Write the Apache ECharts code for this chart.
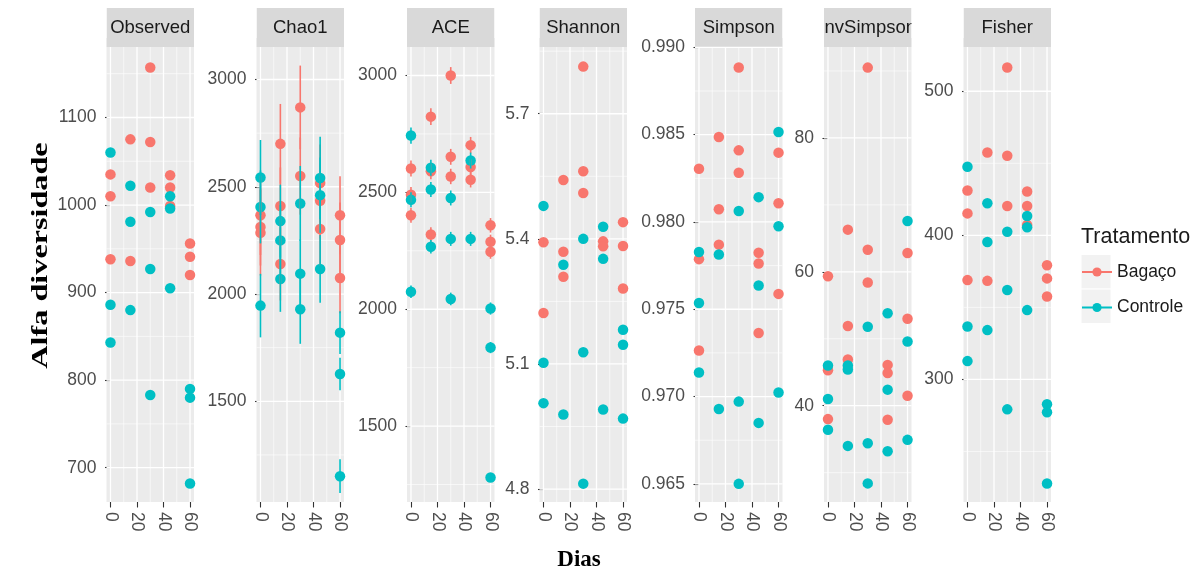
<!DOCTYPE html>
<html>
<head>
<meta charset="utf-8">
<script src="https://cdn.jsdelivr.net/npm/echarts@6/dist/echarts.min.js"></script>
<style>
  html, body { margin: 0; padding: 0; background: #ffffff; }
  #chart { width: 1204px; height: 572px; }
</style>
</head>
<body>
<div id="chart"></div>
<script>
// Sampling days (x axis of every facet)
const days = [0, 15, 30, 45, 60];
const xTicks = [0, 20, 40, 60];
const xLimits = [-3, 63];

// Replicate values per day, one inner array per day
const observedBagaco   = [[1035, 1010, 938], [1075, 936], [1157, 1072, 1020], [1034, 1020, 999], [956, 941, 920]];
const observedControle = [[1060, 886, 843], [1022, 981, 880], [992, 927, 783], [1010, 996, 905], [790, 780, 682]];
const observedTicks  = [700, 800, 900, 1000, 1100];
const observedLimits = [660.8, 1180.5];

const chao1Bagaco     = [[2367, 2313, 2286], [2700, 2410, 2140], [2870, 2550], [2517, 2435, 2303], [2367, 2252, 2075]];
const chao1BagacoSe   = [[185, 180, 200], [186, 180, 170], [195, 180], [180, 175, 170], [182, 175, 165]];
const chao1Controle   = [[2543, 2406, 1946], [2340, 2250, 2070], [2422, 2095, 1929], [2541, 2461, 2117], [1820, 1627, 1151]];
const chao1ControleSe = [[175, 170, 148], [170, 165, 153], [175, 160, 161], [192, 175, 158], [100, 76, 79]];
const chao1Ticks  = [1500, 2000, 2500, 3000];
const chao1Limits = [1030.6, 3151.5];

const aceBagaco     = [[2602, 2490, 2402], [2824, 2590, 2320], [3000, 2652, 2568], [2702, 2608, 2554], [2359, 2289, 2246]];
const aceBagacoSe   = [[34, 33, 32], [36, 34, 31], [36, 34, 33], [35, 34, 33], [31, 30, 30]];
const aceControle   = [[2743, 2468, 2075], [2605, 2512, 2267], [2476, 2301, 2044], [2636, 2301], [2003, 1836, 1280]];
const aceControleSe = [[35, 32, 27], [34, 32, 29], [32, 30, 27], [34, 30], [26, 24, 18]];
const aceTicks  = [1500, 2000, 2500, 3000];
const aceLimits = [1175.3, 3121.9];

const shannonBagaco   = [[5.392, 5.222], [5.541, 5.369, 5.309], [5.813, 5.562, 5.510], [5.394, 5.382], [5.440, 5.383, 5.281]];
const shannonControle = [[5.479, 5.103, 5.006], [5.338, 4.979], [5.400, 5.128, 4.813], [5.429, 5.352, 4.991], [5.182, 5.146, 4.969]];
const shannonTicks  = [4.8, 5.1, 5.4, 5.7];
const shannonLimits = [4.769, 5.860];

const simpsonBagaco   = [[0.98305, 0.97787, 0.97264], [0.98487, 0.98073, 0.97870], [0.98885, 0.98410, 0.98282], [0.97824, 0.97762, 0.97364], [0.98397, 0.98107, 0.97588]];
const simpsonControle = [[0.97828, 0.97536, 0.97138], [0.97814, 0.96929], [0.98063, 0.96971, 0.96500], [0.98142, 0.97636, 0.96849], [0.98515, 0.97975, 0.97023]];
const simpsonTicks  = [0.965, 0.970, 0.975, 0.980, 0.985, 0.990];
const simpsonLimits = [0.96396, 0.99002];

const invSimpsonBagaco   = [[59.35, 45.3, 38.0], [66.3, 51.9, 46.9], [90.5, 63.3, 58.4], [46.1, 44.9, 37.9], [62.8, 53.0, 41.5]];
const invSimpsonControle = [[46.0, 41.0, 36.4], [46.0, 45.4, 34.0], [51.8, 34.4, 28.4], [53.8, 42.4, 33.2], [67.6, 49.6, 34.9]];
const invSimpsonTicks  = [40, 60, 80];
const invSimpsonLimits = [25.62, 93.58];

const fisherBagaco   = [[431.1, 415.2, 368.9], [457.5, 368.4], [516.5, 455.2, 420.3], [430.4, 420.3, 407.1], [379.2, 370.1, 357.5]];
const fisherControle = [[447.6, 336.7, 312.7], [422.3, 395.4, 334.2], [402.5, 362.0, 279.2], [413.4, 405.6, 348.1], [282.8, 277.2, 227.8]];
const fisherTicks  = [300, 400, 500];
const fisherLimits = [214.9, 530.7];

const groupNames = ['Bagaço', 'Controle'];
const legendTitle = 'Tratamento';
const yTitle = 'Alfa diversidade';
const xTitle = 'Dias';

// Facet descriptions (label decimals are formatting, not data)
const facets = [
  { name: 'Observed',   b: observedBagaco,   c: observedControle,   ticks: observedTicks,   lim: observedLimits,   dec: 0 },
  { name: 'Chao1',      b: chao1Bagaco,      c: chao1Controle,      ticks: chao1Ticks,      lim: chao1Limits,      dec: 0, bSe: chao1BagacoSe, cSe: chao1ControleSe },
  { name: 'ACE',        b: aceBagaco,        c: aceControle,        ticks: aceTicks,        lim: aceLimits,        dec: 0, bSe: aceBagacoSe,   cSe: aceControleSe },
  { name: 'Shannon',    b: shannonBagaco,    c: shannonControle,    ticks: shannonTicks,    lim: shannonLimits,    dec: 1 },
  { name: 'Simpson',    b: simpsonBagaco,    c: simpsonControle,    ticks: simpsonTicks,    lim: simpsonLimits,    dec: 3 },
  { name: 'InvSimpson', b: invSimpsonBagaco, c: invSimpsonControle, ticks: invSimpsonTicks, lim: invSimpsonLimits, dec: 0 },
  { name: 'Fisher',     b: fisherBagaco,     c: fisherControle,     ticks: fisherTicks,     lim: fisherLimits,     dec: 0 }
];

// Layout
const PANEL_LEFT = [106.5, 256.5, 407, 539.5, 695, 824, 963.5];
const PANEL_W = 87.5;
const PANEL_TOP = 47;
const PANEL_H = 455;
const STRIP_TOP = 8;
const STRIP_H = 39;

const RED = '#F8766D';
const TEAL = '#00BFC4';
const SANS = '"Liberation Sans", Arial, sans-serif';
const SERIF = '"Liberation Serif", "Times New Roman", serif';
const TICK_COLOR = '#333333';
const LABEL_COLOR = '#4D4D4D';

function toPoints(vals, se) {
  const out = [];
  days.forEach((d, i) => {
    vals[i].forEach((v, j) => out.push(se ? [d, v, se[i][j]] : [d, v]));
  });
  return out;
}

// Major and minor grid line positions: [x, y, orientation (0 = horizontal), major flag]
function gridLines(f) {
  const out = [];
  const xMid = (xLimits[0] + xLimits[1]) / 2;
  const yMid = (f.lim[0] + f.lim[1]) / 2;
  const step = f.ticks[1] - f.ticks[0];
  f.ticks.forEach(t => out.push([xMid, t, 0, 1]));
  for (let k = -1; k < f.ticks.length; k++) {
    const m = f.ticks[0] + (k + 0.5) * step;
    if (m > f.lim[0] && m < f.lim[1]) out.push([xMid, m, 0, 0]);
  }
  xTicks.forEach(t => out.push([t, yMid, 1, 1]));
  for (let k = 0; k < xTicks.length - 1; k++) out.push([(xTicks[k] + xTicks[k + 1]) / 2, yMid, 1, 0]);
  return out;
}

function renderGrid(params, api) {
  const cs = params.coordSys;
  const p = api.coord([api.value(0), api.value(1)]);
  const w = api.value(3) ? 1.3 : 0.6;
  if (api.value(2) === 0) {
    return { type: 'line', silent: true,
      shape: { x1: cs.x, y1: p[1], x2: cs.x + cs.width, y2: p[1] },
      style: { stroke: '#ffffff', lineWidth: w } };
  }
  return { type: 'line', silent: true,
    shape: { x1: p[0], y1: cs.y, x2: p[0], y2: cs.y + cs.height },
    style: { stroke: '#ffffff', lineWidth: w } };
}

function renderErrorBar(params, api) {
  const x = api.value(0), v = api.value(1), s = api.value(2);
  const top = api.coord([x, v + s]);
  const bot = api.coord([x, v - s]);
  return { type: 'line', silent: true,
    shape: { x1: top[0], y1: top[1], x2: bot[0], y2: bot[1] },
    style: { stroke: api.visual('color'), lineWidth: 1.6 } };
}

const grids = [], xAxes = [], yAxes = [];
const series = [
  // legend carriers: line + dot keys
  { type: 'line', name: groupNames[0], xAxisIndex: 0, yAxisIndex: 0, data: [], symbol: 'circle',
    itemStyle: { color: RED }, lineStyle: { color: RED, width: 1.3 } },
  { type: 'line', name: groupNames[1], xAxisIndex: 0, yAxisIndex: 0, data: [], symbol: 'circle',
    itemStyle: { color: TEAL }, lineStyle: { color: TEAL, width: 1.3 } }
];
const graphics = [];

facets.forEach((f, i) => {
  const left = PANEL_LEFT[i];
  grids.push({ left: left, top: PANEL_TOP, width: PANEL_W, height: PANEL_H,
    show: true, backgroundColor: '#EBEBEB', borderWidth: 0 });

  xAxes.push({
    gridIndex: i, type: 'value', min: xLimits[0], max: xLimits[1],
    splitLine: { show: false }, axisLine: { show: false },
    axisTick: { show: true, length: 5.5, customValues: xTicks, lineStyle: { color: TICK_COLOR, width: 1.1 } },
    axisLabel: { customValues: xTicks, rotate: -90, margin: 10, fontSize: 17.5,
      color: LABEL_COLOR, fontFamily: SANS }
  });

  yAxes.push({
    gridIndex: i, type: 'value', min: f.lim[0], max: f.lim[1],
    splitLine: { show: false }, axisLine: { show: false },
    axisTick: { show: true, length: 5.5, customValues: f.ticks, lineStyle: { color: TICK_COLOR, width: 1.1 } },
    axisLabel: { customValues: f.ticks, margin: 10, fontSize: 17.5, color: LABEL_COLOR, fontFamily: SANS,
      formatter: v => Number(v).toFixed(f.dec) }
  });

  series.push({
    type: 'custom', xAxisIndex: i, yAxisIndex: i, silent: true, z: 1,
    encode: { x: 0, y: 1 }, data: gridLines(f), renderItem: renderGrid, clip: false
  });

  series.push({
    type: 'scatter', name: groupNames[0], xAxisIndex: i, yAxisIndex: i, silent: true, z: 2,
    symbol: 'circle', symbolSize: 10.5, itemStyle: { color: RED, opacity: 1 }, data: toPoints(f.b)
  });
  series.push({
    type: 'scatter', name: groupNames[1], xAxisIndex: i, yAxisIndex: i, silent: true, z: 2,
    symbol: 'circle', symbolSize: 10.5, itemStyle: { color: TEAL, opacity: 1 }, data: toPoints(f.c)
  });

  if (f.bSe) {
    series.push({
      type: 'custom', name: groupNames[0], xAxisIndex: i, yAxisIndex: i, silent: true, z: 3,
      itemStyle: { color: RED }, encode: { x: 0, y: 1 }, data: toPoints(f.b, f.bSe), renderItem: renderErrorBar
    });
    series.push({
      type: 'custom', name: groupNames[1], xAxisIndex: i, yAxisIndex: i, silent: true, z: 3,
      itemStyle: { color: TEAL }, encode: { x: 0, y: 1 }, data: toPoints(f.c, f.cSe), renderItem: renderErrorBar
    });
  }

  // facet strip
  graphics.push({ type: 'rect', z: 1, silent: true,
    shape: { x: left, y: STRIP_TOP, width: PANEL_W, height: STRIP_H },
    style: { fill: '#D9D9D9' } });
  graphics.push({ type: 'text', z: 2, silent: true,
    x: left + PANEL_W / 2, y: STRIP_TOP + STRIP_H / 2 + 0.5,
    style: { text: f.name, fill: '#1A1A1A', fontSize: 18.5, fontFamily: SANS,
      textAlign: 'center', textVerticalAlign: 'middle' } });
});

// white masks clip strip labels that are wider than their strip
for (let i = 0; i <= PANEL_LEFT.length; i++) {
  const x0 = i === 0 ? 0 : PANEL_LEFT[i - 1] + PANEL_W;
  const x1 = i === PANEL_LEFT.length ? 1204 : PANEL_LEFT[i];
  graphics.push({ type: 'rect', z: 3, silent: true,
    shape: { x: x0, y: STRIP_TOP - 2, width: x1 - x0, height: 32 },
    style: { fill: '#ffffff' } });
}

// legend key backgrounds and title
const KEY_X = 1081, KEY_Y = 254.5, KEY_W = 30, KEY_H = 34.5;
[0, 1].forEach(k => {
  graphics.push({ type: 'rect', z: 1, silent: true,
    shape: { x: KEY_X, y: KEY_Y + k * KEY_H, width: KEY_W, height: KEY_H },
    style: { fill: '#F2F2F2', stroke: '#ffffff', lineWidth: 1 } });
});
graphics.push({ type: 'text', z: 2, silent: true, x: KEY_X, y: 237,
  style: { text: legendTitle, fill: '#1A1A1A', fontSize: 21.5, fontFamily: SANS,
    textAlign: 'left', textVerticalAlign: 'middle' } });

// axis titles
graphics.push({ type: 'text', z: 2, silent: true, x: 41, y: 255.5, rotation: Math.PI / 2, scaleX: 1.4,
  style: { text: yTitle, fill: '#000000', fontSize: 23, fontWeight: 'bold', fontFamily: SERIF,
    textAlign: 'center', textVerticalAlign: 'middle' } });
graphics.push({ type: 'text', z: 2, silent: true, x: 579, y: 560,
  style: { text: xTitle, fill: '#000000', fontSize: 23, fontWeight: 'bold', fontFamily: SERIF,
    textAlign: 'center', textVerticalAlign: 'middle' } });

const chart = echarts.init(document.getElementById('chart'), null, { renderer: 'canvas' });
chart.setOption({
  animation: false,
  backgroundColor: '#ffffff',
  grid: grids,
  xAxis: xAxes,
  yAxis: yAxes,
  legend: {
    data: groupNames, orient: 'vertical', left: KEY_X, top: 263, padding: 0,
    itemWidth: 30, itemHeight: 11.5, itemGap: 17.5, selectedMode: false,
    textStyle: { fontSize: 17.5, color: '#1A1A1A', fontFamily: SANS }
  },
  graphic: graphics,
  series: series
});
</script>
</body>
</html>
